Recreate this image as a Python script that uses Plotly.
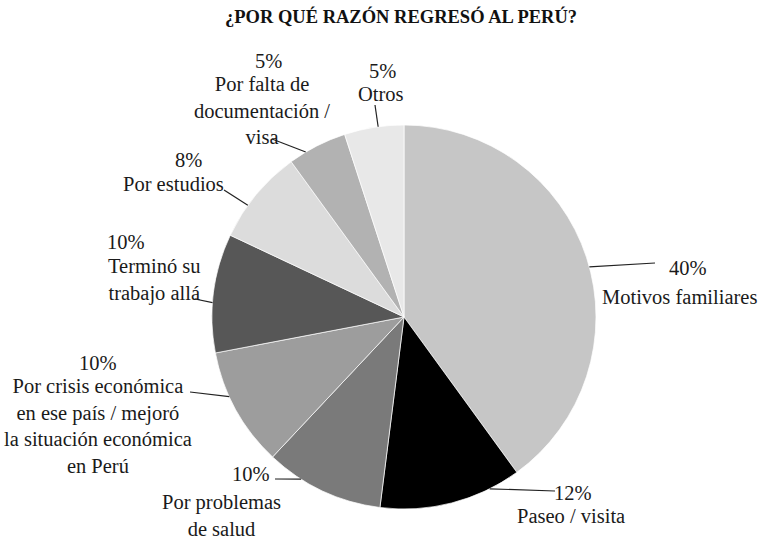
import math
import plotly.graph_objects as go

# data
categories = ["Motivos familiares", "Paseo / visita", "Por problemas<br>de salud",
              "Por crisis económica<br>en ese país / mejoró<br>la situación económica<br>en Perú",
              "Terminó su<br>trabajo allá", "Por estudios",
              "Por falta de<br>documentación /<br>visa", "Otros"]
values = [40, 12, 10, 10, 10, 8, 5, 5]
colors = ["#c6c6c6", "#000000", "#7a7a7a", "#9d9d9d", "#575757", "#dcdcdc", "#b2b2b2", "#e8e8e8"]

W, H = 764, 540
CX, CY, R = 404, 317, 192  # pie centre / radius in px
FONT = "Liberation Serif, DejaVu Serif, serif"

# label layout (px): percent centre, name block centre, leader outer end, attach pos inside slice
pct_pos = [(688, 268), (573, 493), (251, 474), (98, 363), (126, 242), (188, 160), (268, 61), (382, 71)]
name_pos = [(679, 297), (571, 516), (221, 515), (98, 426), (154, 280), (173, 184), (262, 110), (381, 94)]
line_out = [(655, 263), (555, 491), (275, 479), (190, 392), (195, 299), (224, 190), (272, 139), (375, 105)]
attach = [0.52, 0.22, 0.7, 0.62, 0.42, 0.36, 0.29, 0.57]


def px(x):
    return x / W


def py(y):
    return 1 - y / H


fig = go.Figure(go.Pie(
    labels=[c.replace("<br>", " ") for c in categories], values=values,
    sort=False, direction="clockwise", rotation=0,
    marker=dict(colors=colors, line=dict(color="white", width=0.7)),
    textinfo="none", hoverinfo="label+percent",
    domain=dict(x=[px(CX - R), px(CX + R)], y=[py(CY + R), py(CY - R)]),
))

label_font = dict(family=FONT, size=20.5, color="#1a1a1a")
total = sum(values)
cum = 0
shapes, annotations = [], []
for i, v in enumerate(values):
    ang = 2 * math.pi * (cum + v * attach[i]) / total
    cum += v
    ex, ey = CX + R * math.sin(ang), CY - R * math.cos(ang)
    ox, oy = line_out[i]
    shapes.append(dict(type="line", xref="paper", yref="paper",
                       x0=px(ex), y0=py(ey), x1=px(ox), y1=py(oy),
                       line=dict(color="#222222", width=1.2)))
    pct = round(100 * v / total)
    annotations.append(dict(text=f"{pct}%", x=px(pct_pos[i][0]), y=py(pct_pos[i][1]),
                            xref="paper", yref="paper", showarrow=False, font=label_font,
                            xanchor="center", yanchor="middle"))
    annotations.append(dict(text=categories[i], x=px(name_pos[i][0]), y=py(name_pos[i][1]),
                            xref="paper", yref="paper", showarrow=False, align="center",
                            font=label_font, xanchor="center", yanchor="middle"))

annotations.append(dict(text="<b>¿POR QUÉ RAZÓN REGRESÓ AL PERÚ?</b>", x=px(401), y=py(17),
                        xref="paper", yref="paper", showarrow=False,
                        xanchor="center", yanchor="middle",
                        font=dict(family=FONT, size=18.5, color="#111111")))

fig.update_layout(
    width=W, height=H,
    margin=dict(l=0, r=0, t=0, b=0),
    paper_bgcolor="white", plot_bgcolor="white",
    showlegend=False,
    font=label_font,
    shapes=shapes, annotations=annotations,
)

# drop the browser's default 8px body margin so the figure sits at the page corner
fig.write_html("out.html", config={"displayModeBar": False},
               post_script="document.body.style.margin='0';")
